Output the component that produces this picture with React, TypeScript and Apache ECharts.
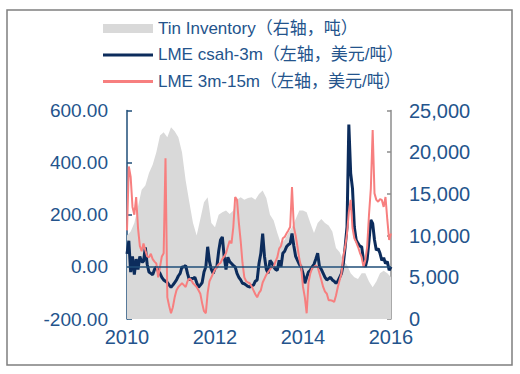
import React, { useEffect, useRef } from "react";
import * as echarts from "echarts";

// Series start: January 2010. Lines sampled twice a month, inventory monthly.
const startYear = 2010;
const xTicks = [2010, 2012, 2014, 2016];

const seriesNames = [
  "Tin Inventory（右轴，吨）",
  "LME csah-3m（左轴，美元/吨）",
  "LME 3m-15m（左轴，美元/吨）",
];

// Tin inventory, tonnes (right axis), monthly
const tinInventory = [
  10000, 10500, 11500, 13500, 15500, 16000, 17500, 18500, 20000, 22000, 22400, 21800,
  23000, 22500, 21800, 20000, 16600, 14000, 11500, 10000, 12000, 14000, 14600, 11500,
  11000, 12500, 12800, 13000, 12600, 13000, 14300, 14600, 14300, 14500, 14600, 14300,
  15000, 15400, 14500, 12500, 11800, 10300, 9000, 9500, 10300, 11000, 12000, 13000,
  13000, 12800, 11500, 10300, 11500, 12000, 11500, 11200, 10500, 8500, 8000, 7000,
  6500, 5500, 5000, 4800, 5500, 5500, 4500, 3800, 4500, 5500, 5800, 5500, 5000,
];

// LME cash-3m spread, USD/t (left axis), semi-monthly
const cash3m = [
  50, 100, -20, 40, -30, 30, -10, 40, 20, 20, 75, 10, -20, -25, -30, -10, 0, -15, -25, -40,
  -50, -55, -60, -70, -78, -70, -60, -50, -35, -25, 0, 0, 5, -25, -50, -45, -45, -40, -60, -78,
  -70, -60, -20, 0, 77, 20, -10, -25, -5, 0, 60, 103, 115, 40, -10, 37, 20, 13, 5, 0,
  -25, -40, -50, -63, -65, -70, -75, -77, -72, -70, -55, -50, 13, 52, 128, 40, -10, -25, 25, 15,
  0, -10, -13, 25, 0, 52, 60, 77, 85, 90, 128, 80, 40, 25, 10, 0, -25, -63, -40, -20,
  -13, 0, 10, 30, 52, 0, -10, -25, -40, -50, -45, -40, -50, -55, -63, -55, -40, -25, 13, 77,
  153, 546, 360, 300, 153, 103, 90, 80, 77, 25, 0, 30, 100, 180, 167, 103, 64, 70, 52, 25,
  35, 13, 20, -13, 0,
];

// LME 3m-15m spread, USD/t (left axis), semi-monthly
const spread3m15m = [
  140, 385, 345, 230, 200, 268, 150, 80, 60, 90, 64, 40, 37, 50, 30, 20, 13, -40, 0, 40,
  52, 417, -117, -150, -178, -155, -117, -90, -77, -70, -63, -70, -77, -55, -45, -50, -63, -70, -77, -90,
  -103, -140, -170, -178, -100, -55, -40, -25, -10, 0, 10, 15, 30, 40, 52, 77, 100, 90, 153, 268,
  257, 170, 100, 15, -40, -55, -60, -63, -75, -90, -105, -117, -100, -90, -60, -45, -30, -20, -10, 0,
  0, 20, 37, 70, 80, 110, 115, 128, 140, 153, 306, 153, 120, 77, 30, 0, -77, -117, -178, -60,
  -25, -5, 0, 5, 0, -25, -50, -77, -95, -103, -128, -128, -130, -135, -110, -77, -50, -25, 40, 77,
  128, 210, 257, 150, 110, 95, 77, 55, 37, 0, 25, 77, 200, 300, 525, 282, 257, 250, 260, 257,
  230, 268, 180, 103, 128,
];

const FONT = '"Liberation Sans", Arial, "Noto Sans CJK SC", sans-serif';
const LABEL = "#24548c";
const NAVY = "#0c2c5c";
const PINK = "#f77f7f";
const GRAY = "#d9d9d9";

export default function App() {
  const ref = useRef<HTMLDivElement>(null);

  useEffect(() => {
    if (!ref.current) return;
    const chart = echarts.init(ref.current, undefined, { renderer: "svg" });

    const monthly = tinInventory.map((v, i) => [startYear + i / 12, v]);
    const navy = cash3m.map((v, i) => [startYear + i / 24, v]);
    const pink = spread3m15m.map((v, i) => [startYear + i / 24, v]);

    chart.setOption({
      animation: false,
      textStyle: { fontFamily: FONT },
      grid: { left: 127, right: 129, top: 110.5, bottom: 55 },
      legend: {
        orient: "vertical",
        left: 103,
        top: 20,
        padding: 0,
        itemWidth: 50,
        itemHeight: 9,
        itemGap: 9.5,
        selectedMode: false,
        textStyle: { color: LABEL, fontSize: 17, fontFamily: FONT },
        data: [
          { name: seriesNames[0], icon: "rect" },
          { name: seriesNames[1], icon: "path://M0,0L50,0L50,3L0,3Z" },
          { name: seriesNames[2], icon: "path://M0,0L50,0L50,3L0,3Z" },
        ],
      },
      graphic: [
        {
          type: "rect",
          shape: { x: 7, y: 10, width: 505, height: 355 },
          style: { fill: "none", stroke: "#7f7f7f", lineWidth: 1.5 },
          silent: true,
        },
      ],
      xAxis: {
        type: "value",
        min: xTicks[0],
        max: xTicks[xTicks.length - 1],
        interval: 2,
        axisLine: { show: false },
        axisTick: { show: false },
        splitLine: { show: false },
        axisLabel: {
          color: LABEL,
          fontSize: 20,
          margin: 8,
          fontFamily: FONT,
          formatter: (v: number) => String(v),
        },
      },
      yAxis: [
        {
          type: "value",
          position: "left",
          min: -200,
          max: 600,
          interval: 200,
          splitLine: { show: false },
          axisLine: { show: true, lineStyle: { color: "#1f4e79", width: 1.5 } },
          axisTick: { show: true, inside: true, length: 5, lineStyle: { color: "#1f4e79", width: 1.5 } },
          axisLabel: {
            color: LABEL,
            fontSize: 19,
            margin: 19,
            fontFamily: FONT,
            formatter: (v: number) => v.toFixed(2),
          },
        },
        {
          type: "value",
          position: "right",
          min: 0,
          max: 25000,
          interval: 5000,
          splitLine: { show: false },
          axisLine: { show: true, lineStyle: { color: "#8c8c8c", width: 1.5 } },
          axisTick: { show: true, inside: true, length: 4, lineStyle: { color: "#8c8c8c", width: 1.5 } },
          axisLabel: {
            color: LABEL,
            fontSize: 20,
            margin: 18,
            fontFamily: FONT,
            formatter: (v: number) => v.toLocaleString("en-US"),
          },
        },
      ],
      series: [
        {
          name: seriesNames[0],
          type: "line",
          yAxisIndex: 1,
          data: monthly,
          showSymbol: false,
          color: GRAY,
          lineStyle: { width: 0 },
          areaStyle: { color: GRAY, opacity: 1 },
          z: 1,
        },
        {
          name: seriesNames[1],
          type: "line",
          yAxisIndex: 0,
          data: navy,
          showSymbol: false,
          color: NAVY,
          lineStyle: { width: 3, color: NAVY },
          z: 3,
          markLine: {
            silent: true,
            symbol: "none",
            label: { show: false },
            lineStyle: { color: "#1f4e79", width: 1.5, type: "solid" },
            data: [{ yAxis: 0 }],
          },
        },
        {
          name: seriesNames[2],
          type: "line",
          yAxisIndex: 0,
          data: pink,
          showSymbol: false,
          color: PINK,
          lineStyle: { width: 2, color: PINK },
          z: 4,
        },
      ],
    });

    return () => chart.dispose();
  }, []);

  return (
    <div
      ref={ref}
      style={{ position: "absolute", left: 0, top: 0, width: 520, height: 374, background: "#fff" }}
    />
  );
}
